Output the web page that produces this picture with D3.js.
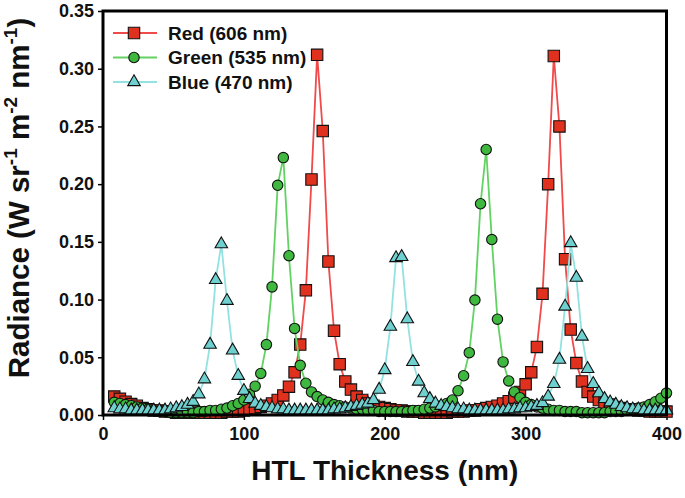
<!DOCTYPE html>
<html>
<head>
<meta charset="utf-8">
<script src="https://cdn.jsdelivr.net/npm/d3@7"></script>
<style>
  body { margin: 0; background: #fff; }
  text { font-family: Arial, "Liberation Sans", sans-serif; font-weight: bold; fill: #111; }
</style>
</head>
<body>
<div id="container"></div>
<script>
var w = 685
var h = 498

// HTL thickness (nm)
var thickness = [8, 12, 16, 20, 24, 28, 32, 36, 40, 44, 48, 52, 56, 60, 64, 68, 72, 76, 80, 84,
  88, 92, 96, 100, 104, 108, 112, 116, 120, 124, 128, 132, 136, 140, 144, 148, 152, 156, 160, 164,
  168, 172, 176, 180, 184, 188, 192, 196, 200, 204, 208, 212, 216, 220, 224, 228, 232, 236, 240, 244,
  248, 252, 256, 260, 264, 268, 272, 276, 280, 284, 288, 292, 296, 300, 304, 308, 312, 316, 320, 324,
  328, 332, 336, 340, 344, 348, 352, 356, 360, 364, 368, 372, 376, 380, 384, 388, 392, 396, 400]

// radiance, W sr-1 m-2 nm-1
var red = [.016, .014, .0115, .0095, .008, .006, .005, .004, .004, .003,
  .003, .002, .002, .002, .002, .002, .002, .002, .002, .002,
  .003, .003, .003, .004, .005, .006, .007, .008, .010, .013,
  .017, .0245, .037, .061, .108, .204, .312, .246, .133, .073,
  .044, .029, .022, .016, .013, .010, .008, .007, .006, .005,
  .004, .004, .003, .003, .003, .002, .002, .002, .002, .002,
  .003, .003, .003, .004, .004, .005, .006, .007, .008, .010,
  .012, .015, .020, .0266, .037, .059, .105, .200, .311, .250,
  .135, .074, .045, .029, .020, .016, .013, .010, .009, .007,
  .006, .005, .005, .004, .004, .003, .003, .003, .003]

var green = [.011, .010, .009, .008, .007, .006, .005, .004, .003, .003,
  .002, .002, .002, .002, .002, .003, .003, .004, .004, .005,
  .006, .008, .010, .013, .018, .025, .036, .061, .111, .199,
  .223, .138, .075, .043, .0275, .020, .016, .013, .011, .009,
  .008, .007, .006, .005, .005, .004, .004, .003, .003, .003,
  .003, .003, .003, .004, .004, .005, .006, .007, .008, .010,
  .013, .021, .034, .054, .0996, .183, .230, .152, .083, .046,
  .0295, .020, .015, .011, .009, .007, .006, .005, .004, .004,
  .003, .003, .003, .002, .002, .002, .002, .002, .003, .003,
  .003, .004, .005, .006, .007, .009, .0115, .0145, .019]

var blue = [.006, .005, .005, .004, .004, .004, .004, .004, .004, .004,
  .005, .006, .007, .009, .0115, .018, .031, .061, .117, .148,
  .099, .056, .034, .021, .014, .010, .008, .007, .006, .005,
  .005, .004, .004, .004, .004, .004, .004, .004, .004, .005,
  .005, .006, .007, .008, .009, .010, .013, .022, .039, .0765,
  .136, .137, .083, .046, .029, .019, .014, .010, .008, .007,
  .006, .005, .005, .004, .004, .004, .004, .004, .004, .004,
  .005, .005, .006, .006, .007, .008, .0104, .016, .027, .048,
  .094, .149, .119, .068, .040, .027, .019, .014, .011, .009,
  .007, .006, .005, .005, .004, .004, .004, .004, .004]

var seriesNames = ["Red (606 nm)", "Green (535 nm)", "Blue (470 nm)"]
var xTicks = [0, 100, 200, 300, 400]
var yTicks = [0, 0.05, 0.10, 0.15, 0.20, 0.25, 0.30, 0.35]

var styles = [
  { line: "#f04a4a", fill: "#e0301e", shape: d3.symbolSquare, size: 130 },
  { line: "#62d262", fill: "#3fb83f", shape: d3.symbolCircle, size: 85 },
  { line: "#93e2e2", fill: "#6fd0d0", shape: d3.symbolTriangle, size: 68 }
]
var values = [red, green, blue]

var svg = d3.select("#container").append("svg")
  .attr("width", w)
  .attr("height", h)
  .style("display", "block")

// plot box (window.top is reserved, so no "top" here)
var pLeft = 103, pRight = 666.5, pTop = 11, pBottom = 415

var x = d3.scaleLinear().domain([0, 400]).range([pLeft, pRight])
var y = d3.scaleLinear().domain([0, 0.35]).range([pBottom, pTop])

// axes
svg.append("g")
  .attr("transform", "translate(0," + pBottom + ")")
  .call(d3.axisBottom(x).tickValues(xTicks).tickSize(5).tickPadding(7).tickFormat(d3.format("d")))
  .call(g => g.select(".domain").remove())
  .call(g => g.selectAll(".tick line").attr("stroke", "#000").attr("stroke-width", 1.5))
  .call(g => g.selectAll(".tick text").style("font-size", "18px").attr("fill", "#111"))

svg.append("g")
  .attr("transform", "translate(" + pLeft + ",0)")
  .call(d3.axisLeft(y).tickValues(yTicks).tickSize(5).tickPadding(4).tickFormat(d3.format(".2f")))
  .call(g => g.select(".domain").remove())
  .call(g => g.selectAll(".tick line").attr("stroke", "#000").attr("stroke-width", 1.5))
  .call(g => g.selectAll(".tick text").style("font-size", "18px").attr("fill", "#111"))

// series
var line = d3.line()
  .x((d, i) => x(thickness[i]))
  .y(d => y(d))

values.forEach(function (vals, k) {
  var s = styles[k]
  var g = svg.append("g")
  g.append("path")
    .datum(vals)
    .attr("fill", "none")
    .attr("stroke", s.line)
    .attr("stroke-width", 1.8)
    .attr("d", line)
  g.selectAll("path.mark")
    .data(vals)
    .enter()
    .append("path")
    .attr("class", "mark")
    .attr("d", d3.symbol().type(s.shape).size(s.size))
    .attr("transform", (d, i) => "translate(" + x(thickness[i]) + "," + y(d) + ")")
    .attr("fill", s.fill)
    .attr("stroke", "#111")
    .attr("stroke-width", 1.1)
})

// frame
svg.append("rect")
  .attr("x", pLeft)
  .attr("y", pTop)
  .attr("width", pRight - pLeft)
  .attr("height", pBottom - pTop)
  .attr("fill", "none")
  .attr("stroke", "#000")
  .attr("stroke-width", 3)

// legend
var legend = svg.append("g")
seriesNames.forEach(function (name, k) {
  var s = styles[k]
  var ly = 33 + k * 24.5
  legend.append("line")
    .attr("x1", 113).attr("x2", 157)
    .attr("y1", ly).attr("y2", ly)
    .attr("stroke", s.line).attr("stroke-width", 1.8)
  legend.append("path")
    .attr("d", d3.symbol().type(s.shape).size(s.size)())
    .attr("transform", "translate(134," + ly + ")")
    .attr("fill", s.fill).attr("stroke", "#111").attr("stroke-width", 1.1)
  legend.append("text")
    .attr("x", 168).attr("y", ly + 6.5)
    .style("font-size", "19px")
    .text(name)
})

// axis titles
svg.append("text")
  .attr("x", (pLeft + pRight) / 2)
  .attr("y", 480)
  .attr("text-anchor", "middle")
  .style("font-size", "28px")
  .text("HTL Thickness (nm)")

var yt = svg.append("text")
  .attr("transform", "translate(29,198) rotate(-90)")
  .attr("text-anchor", "middle")
  .style("font-size", "29.5px")
yt.append("tspan").text("Radiance (W sr")
yt.append("tspan").attr("dy", -12).style("font-size", "19px").text("-1")
yt.append("tspan").attr("dy", 12).text(" m")
yt.append("tspan").attr("dy", -12).style("font-size", "19px").text("-2")
yt.append("tspan").attr("dy", 12).text(" nm")
yt.append("tspan").attr("dy", -12).style("font-size", "19px").text("-1")
yt.append("tspan").attr("dy", 12).text(")")
</script>
</body>
</html>
